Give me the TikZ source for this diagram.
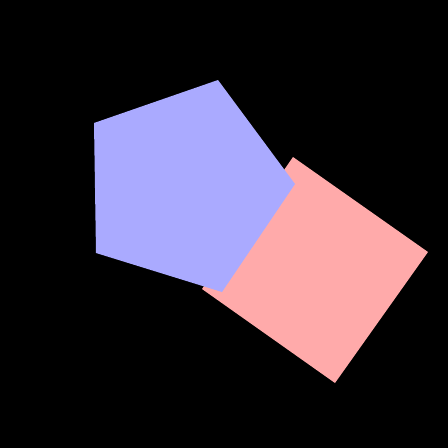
\documentclass[tikz,border=0pt]{standalone}
\usepackage{tikz}
\definecolor{PGblue}{RGB}{170,170,255}
\definecolor{PGpink}{RGB}{255,170,170}
\tikzset{
  tile/.style={draw=none},
}
\begin{document}
\begin{tikzpicture}[x=1pt,y=-1pt]
  % background
  \fill[black] (0,0) rectangle (448,448);
  \useasboundingbox (0,0) rectangle (448,448);
  % square
  \fill[tile,PGpink] (293,157) -- (428,252) -- (335,383) -- (202,289) -- cycle;
  % pentagon
  \fill[tile,PGblue] (94,123) -- (218,80) -- (295,184) -- (222,292) -- (96,253) -- cycle;
\end{tikzpicture}
\end{document}
